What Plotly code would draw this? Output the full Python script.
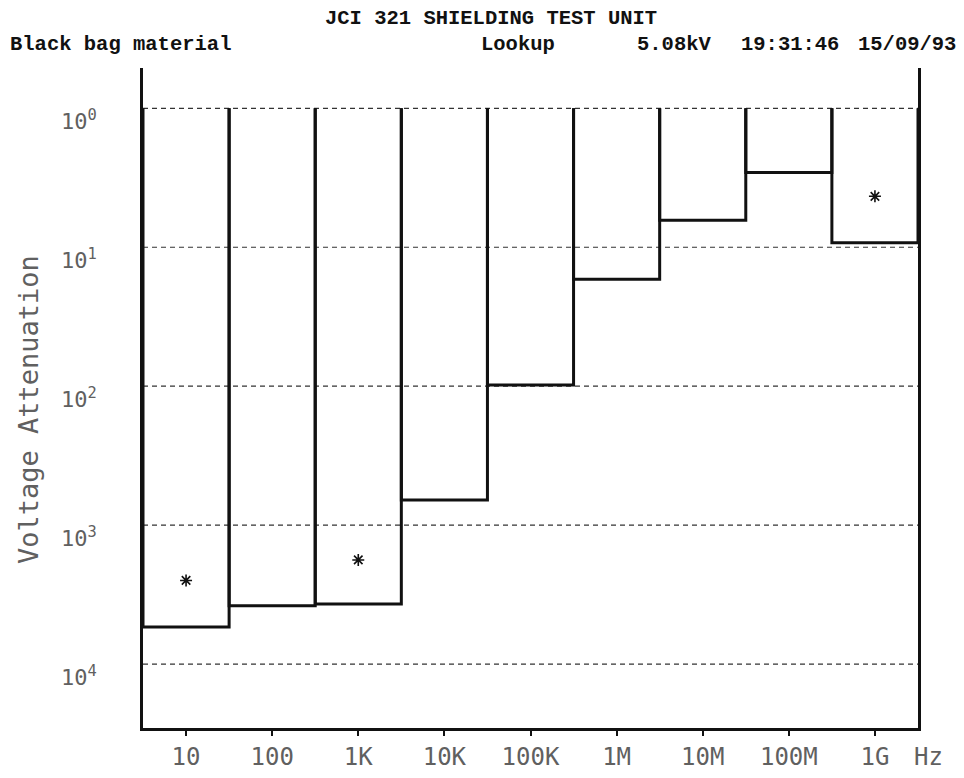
import math
import plotly.graph_objects as go

# ---- data ----
freq_labels = ["10", "100", "1K", "10K", "100K", "1M", "10M", "100M", "1G"]
decade = [1, 2, 3, 4, 5, 6, 7, 8, 9]          # log10(frequency)
attenuation = [5400, 3800, 3700, 660, 98, 17, 6.4, 2.9, 9.3]
star_decade = [1, 3, 9]
star_values = [2500, 1780, 4.3]
ytick_vals = [1, 10, 100, 1000, 10000]
ytick_text = ["10<sup>0</sup>", "10<sup>1</sup>", "10<sup>2</sup>", "10<sup>3</sup>", "10<sup>4</sup>"]

INK = "#111111"
GRAY = "#606060"
MONO = "DejaVu Sans Mono"

fig = go.Figure()

# dashed decade lines
for v in ytick_vals:
    fig.add_shape(type="line", xref="x", yref="y", x0=0.5, x1=9.5, y0=v, y1=v,
                  line=dict(color="#333333", width=1.2, dash="5px,4px"), layer="below")

# step bins: each bin drawn from the 10^0 line down to its value
xs, ys = [], []
for d, v in zip(decade, attenuation):
    lo, hi = d - 0.5, d + 0.5
    xs += [lo, lo, hi, hi, None]
    ys += [1, v, v, 1, None]
fig.add_trace(go.Scatter(x=xs, y=ys, mode="lines", line=dict(color=INK, width=3),
                         hoverinfo="skip", showlegend=False))

fig.add_trace(go.Scatter(x=star_decade, y=star_values, mode="markers",
                         marker=dict(symbol="asterisk-open", size=10, color=INK,
                                     line=dict(color=INK, width=1.6)),
                         showlegend=False))

fig.update_xaxes(range=[0.5, 9.5], tickvals=decade, ticktext=freq_labels,
                 showline=True, linecolor=INK, linewidth=3, mirror=False,
                 ticks="outside", ticklen=5, tickwidth=2, tickcolor=INK,
                 showgrid=False, zeroline=False, ticklabelstandoff=0,
                 automargin=False,
                 tickfont=dict(family=MONO, size=24, color=GRAY))
fig.update_yaxes(type="log", range=[4.46, -0.29], tickvals=ytick_vals,
                 showticklabels=False, automargin=False,
                 showline=True, linecolor=INK, linewidth=3, mirror=True,
                 ticks="", showgrid=False, zeroline=False)

W, H = 964, 778
L, R, T, B = 143, 918, 68, 728

def px(x):
    return (x - L) / (R - L)

def py(y):
    return (B - y) / (B - T)

hdr = dict(family="Liberation Mono", size=20.5, color=INK)
ann = [
    dict(text="<b>JCI 321 SHIELDING TEST UNIT</b>", x=491, y=18, xanchor="center"),
    dict(text="<b>Black bag material</b>", x=8, y=45, xanchor="left"),
    dict(text="<b>Lookup</b>", x=518, y=45, xanchor="center"),
    dict(text="<b>5.08kV</b>", x=674, y=45, xanchor="center"),
    dict(text="<b>19:31:46</b>", x=790, y=45, xanchor="center"),
    dict(text="<b>15/09/93</b>", x=907, y=45, xanchor="center"),
]
annotations = []
for a in ann:
    annotations.append(dict(text=a["text"], xref="paper", yref="paper",
                            x=px(a["x"]), y=py(a["y"]),
                            xanchor=a["xanchor"], yanchor="middle", showarrow=False,
                            font=hdr))
# y tick labels (sit just below their dashed lines, as in the reference)
for v, t in zip(ytick_vals, ytick_text):
    annotations.append(dict(text=t, xref="paper", yref="y", x=px(99), y=math.log10(v),
                            xanchor="right", yanchor="middle", yshift=-12,
                            showarrow=False,
                            font=dict(family=MONO, size=22, color=GRAY)))
annotations.append(dict(text="Voltage Attenuation", xref="paper", yref="paper",
                        x=px(28), y=py(410), textangle=-90,
                        xanchor="center", yanchor="middle", showarrow=False,
                        font=dict(family=MONO, size=27, color=GRAY)))
annotations.append(dict(text="Hz", xref="paper", yref="paper",
                        x=px(928), y=py(757),
                        xanchor="center", yanchor="middle", showarrow=False,
                        font=dict(family=MONO, size=24, color=GRAY)))

fig.update_layout(width=W, height=H, margin=dict(l=L, r=W - R, t=T, b=H - B),
                  paper_bgcolor="white", plot_bgcolor="white",
                  annotations=annotations, showlegend=False)

fig.write_html("out.html")
